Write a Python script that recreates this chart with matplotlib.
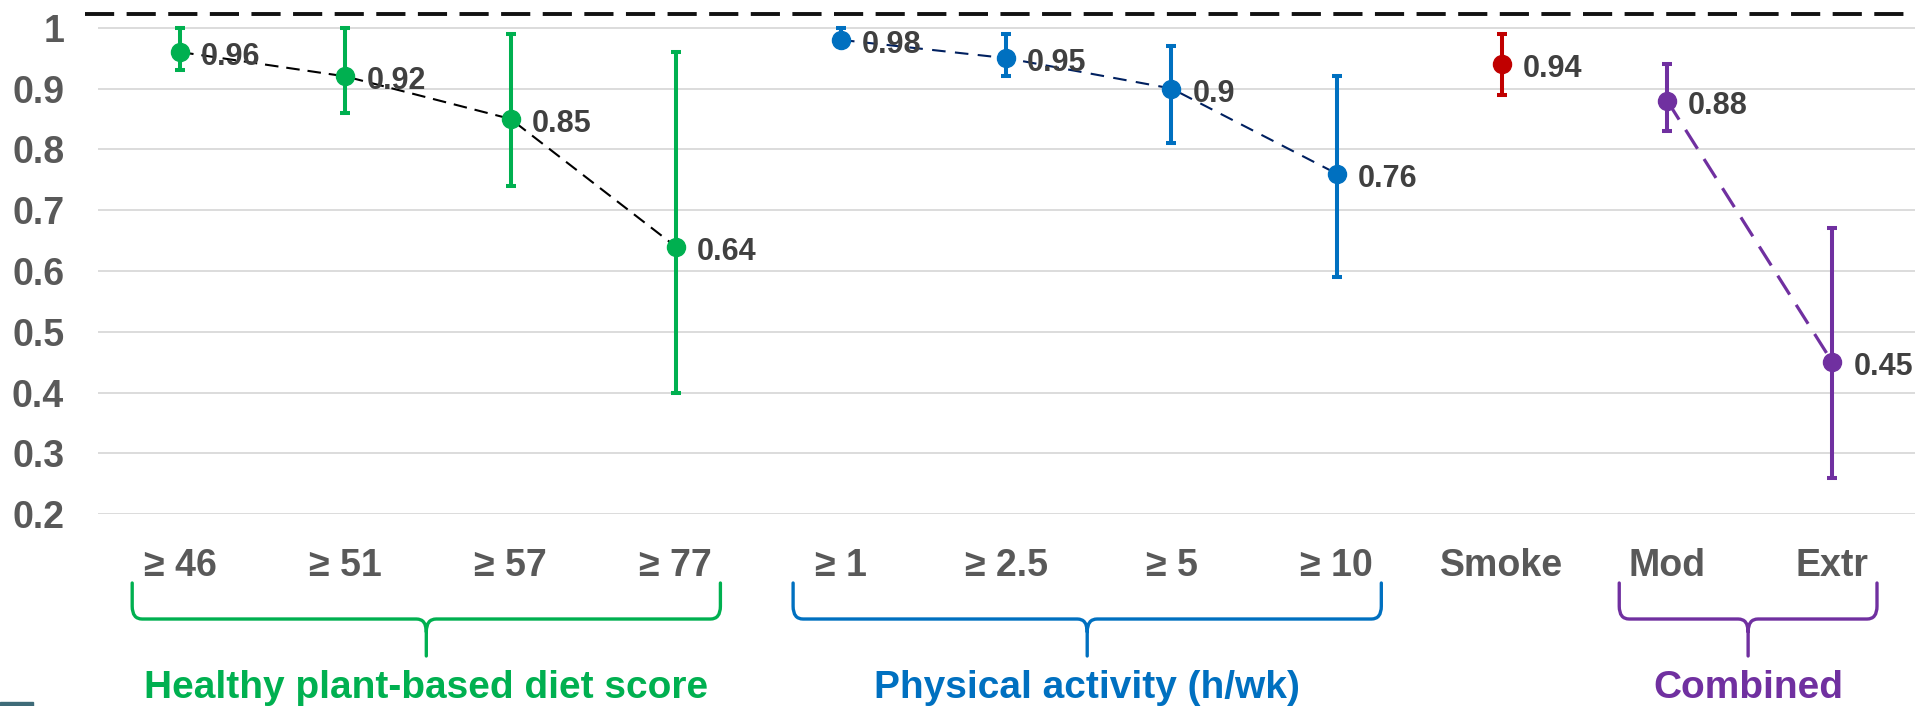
import matplotlib
matplotlib.use("Agg")
import matplotlib.pyplot as plt
from matplotlib.path import Path
from matplotlib.patches import PathPatch, Rectangle
import numpy as np

plt.rcParams["font.family"] = ["Liberation Sans", "DejaVu Sans"]

# ---- data -------------------------------------------------------------
categories = ["≥ 46", "≥ 51", "≥ 57", "≥ 77",
              "≥ 1", "≥ 2.5", "≥ 5", "≥ 10",
              "Smoke", "Mod", "Extr"]
estimates = [0.96, 0.92, 0.85, 0.64, 0.98, 0.95, 0.90, 0.76, 0.94, 0.88, 0.45]
ci_lower = [0.93, 0.86, 0.74, 0.40, 0.97, 0.92, 0.81, 0.59, 0.89, 0.83, 0.26]
ci_upper = [1.00, 1.00, 0.99, 0.96, 1.00, 0.99, 0.97, 0.92, 0.99, 0.94, 0.67]
reference_level = 1.022

group_names = ["Healthy plant-based diet score", "Physical activity (h/wk)", "", "Combined"]
group_members = [[0, 1, 2, 3], [4, 5, 6, 7], [8], [9, 10]]
group_colors = ["#00B050", "#0070C0", "#C00000", "#7030A0"]
trend_colors = ["#000000", "#002060", None, "#7030A0"]
y_ticks = [0.2, 0.3, 0.4, 0.5, 0.6, 0.7, 0.8, 0.9, 1.0]

# ---- figure -----------------------------------------------------------
W, H = 1927, 706
fig = plt.figure(figsize=(W / 100, H / 100), dpi=100)
ax = fig.add_axes([97.5 / W, 1 - 514.2 / H, 1817.5 / W, 510.8 / H])
ax.set_xlim(-0.5, len(categories) - 0.5)
ax.set_ylim(0.2, 1.04)
for s in ax.spines.values():
    s.set_visible(False)

ax.set_yticks(y_ticks)
ax.set_yticklabels([f"{t:g}" for t in y_ticks])
ax.yaxis.grid(True, color="#D9D9D9", lw=1.3)
ax.set_axisbelow(True)
ax.tick_params(axis="y", length=0, pad=24, labelsize=27, labelcolor="#595959")
for lbl in ax.get_yticklabels():
    lbl.set_fontweight("bold")

x = np.arange(len(categories))
ax.set_xticks(x)
ax.set_xticklabels(categories)
ax.tick_params(axis="x", length=0, pad=44.5, labelsize=27, labelcolor="#595959")
for lbl in ax.get_xticklabels():
    lbl.set_fontweight("bold")
    lbl.set_va("baseline")

# dashed reference line across the top
ax.axhline(reference_level, xmin=-0.007, xmax=0.9973, color="#111111", lw=2.8,
           ls=(0, (7.5, 3.2)), clip_on=False, zorder=1)

est = np.array(estimates)
lo = np.array(ci_lower)
hi = np.array(ci_upper)

trend_styles = {0: (1.5, (6.5, 3.8)), 1: (1.5, (6.5, 4.5)), 3: (2.3, (7.0, 3.8))}

for g, idx in enumerate(group_members):
    idx = np.array(idx)
    col = group_colors[g]
    if len(idx) > 1:
        lw, dash = trend_styles[g]
        ax.plot(x[idx], est[idx], color=trend_colors[g], lw=lw,
                ls=(0, dash), zorder=2)
    ax.errorbar(x[idx], est[idx], yerr=[est[idx] - lo[idx], hi[idx] - est[idx]],
                fmt="o", color=col, ms=13, elinewidth=2.9, capsize=3.6,
                capthick=2.9, zorder=3)

for xi, v in zip(x, est):
    ax.annotate(f"{v:g}", (xi, v), xytext=(21, -13), textcoords="offset pixels",
                ha="left", va="baseline", fontsize=22, fontweight="bold",
                color="#404040", zorder=4)

# ---- group braces below the category labels -------------------------
trans = ax.get_xaxis_transform()
top, mid, tip = -0.1347, -0.2052, -0.2776
rx, ry = 0.06, 0.025


def brace(x0, x1, color):
    xm = (x0 + x1) / 2
    verts = [
        (x0, top), (x0, mid + ry), (x0, mid), (x0 + rx, mid),
        (xm - rx, mid), (xm, mid), (xm, mid - ry), (xm, tip),
        (x1, top), (x1, mid + ry), (x1, mid), (x1 - rx, mid),
        (xm + rx, mid), (xm, mid), (xm, mid - ry),
    ]
    codes = [
        Path.MOVETO, Path.LINETO, Path.CURVE3, Path.CURVE3,
        Path.LINETO, Path.CURVE3, Path.CURVE3, Path.LINETO,
        Path.MOVETO, Path.LINETO, Path.CURVE3, Path.CURVE3,
        Path.LINETO, Path.CURVE3, Path.CURVE3,
    ]
    ax.add_patch(PathPatch(Path(verts, codes), transform=trans, fill=False,
                           edgecolor=color, lw=2.4, clip_on=False,
                           capstyle="round", joinstyle="round"))


for g, idx in enumerate(group_members):
    if not group_names[g]:
        continue
    x0, x1 = x[idx[0]] - 0.29, x[idx[-1]] + 0.27
    brace(x0, x1, group_colors[g])
    ax.text((x0 + x1) / 2, -0.36, group_names[g], transform=trans,
            ha="center", va="baseline", fontsize=28, fontweight="bold",
            color=group_colors[g], clip_on=False)

fig.patches.append(Rectangle((0, 0), 33 / W, 4 / H, transform=fig.transFigure,
                             color="#3E6B78", zorder=0))

fig.savefig("out.png", dpi=100, facecolor="white")
